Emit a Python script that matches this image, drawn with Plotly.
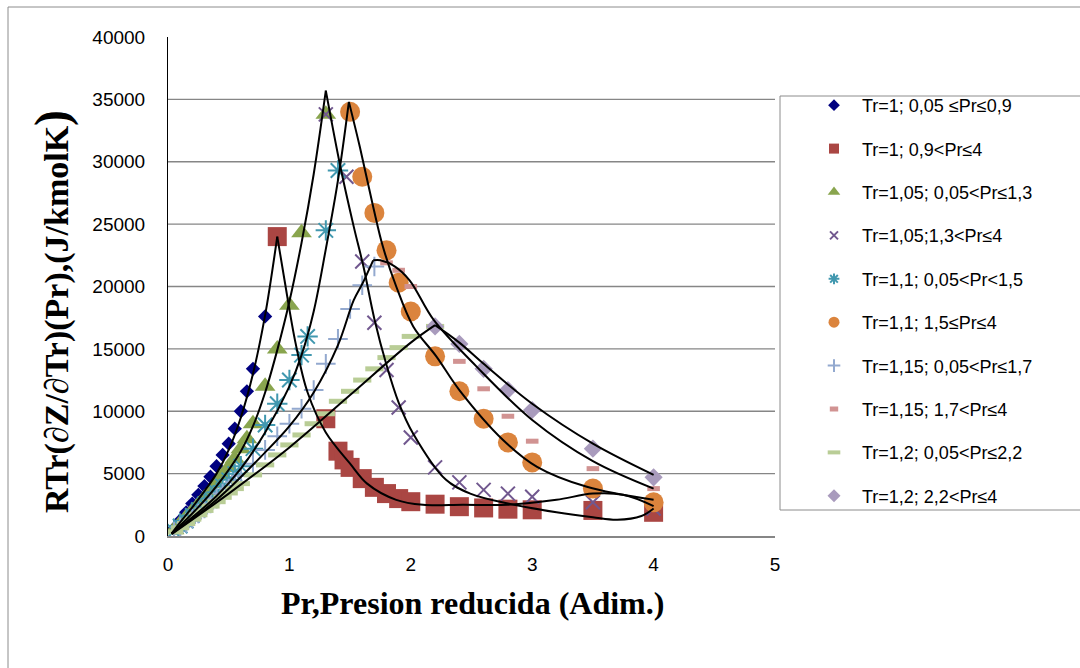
import plotly.graph_objects as go

# ---------------- data ----------------
names = ["Tr=1; 0,05 ≤Pr≤0,9", "Tr=1; 0,9<Pr≤4", "Tr=1,05; 0,05<Pr≤1,3",
         "Tr=1,05;1,3<Pr≤4", "Tr=1,1; 0,05<Pr<1,5", "Tr=1,1; 1,5≤Pr≤4",
         "Tr=1,15; 0,05<Pr≤1,7", "Tr=1,15; 1,7<Pr≤4", "Tr=1,2; 0,05<Pr≤2,2",
         "Tr=1,2; 2,2<Pr≤4"]

s1_x = [0.05, 0.1, 0.15, 0.2, 0.25, 0.3, 0.35, 0.4, 0.45, 0.5, 0.55, 0.6, 0.65, 0.7, 0.8]
s1_y = [600, 1250, 1900, 2600, 3300, 4000, 4750, 5600, 6500, 7400, 8600, 10000, 11600, 13400, 17600]

s2_x = [0.9, 1.3, 1.4, 1.45, 1.5, 1.6, 1.7, 1.8, 1.9, 2.0, 2.2, 2.4, 2.6, 2.8, 3.0, 3.5, 4.0]
s2_y = [24000, 9400, 6800, 6100, 5500, 4600, 3900, 3400, 3000, 2750, 2550, 2350, 2250, 2150, 2100, 2050, 1900]

s3_x = [0.05, 0.1, 0.15, 0.2, 0.25, 0.3, 0.35, 0.4, 0.45, 0.5, 0.55, 0.6, 0.65, 0.7, 0.8, 0.9, 1.0, 1.1, 1.3]
s3_y = [500, 1000, 1500, 2000, 2500, 3050, 3600, 4200, 4850, 5500, 6200, 7000, 7800, 9000, 12000, 15000, 18500, 24300, 33800]

s4_x = [1.3, 1.47, 1.6, 1.7, 1.8, 1.9, 2.0, 2.2, 2.4, 2.6, 2.8, 3.0, 3.5, 4.0]
s4_y = [33800, 28800, 22000, 17100, 13300, 10300, 7900, 5500, 4300, 3700, 3400, 3150, 2700, 2200]

s5_x = [0.05, 0.1, 0.15, 0.2, 0.25, 0.3, 0.35, 0.4, 0.45, 0.5, 0.55, 0.6, 0.7, 0.8, 0.9, 1.0, 1.1, 1.15, 1.3, 1.4]
s5_y = [400, 800, 1200, 1650, 2100, 2550, 3000, 3500, 4000, 4500, 5000, 5600, 7000, 8900, 10600, 12500, 14500, 16000, 24500, 29300]

s6_x = [1.5, 1.6, 1.7, 1.8, 1.9, 2.0, 2.2, 2.4, 2.6, 2.8, 3.0, 3.5, 4.0]
s6_y = [34000, 28800, 25900, 22900, 20300, 18000, 14400, 11600, 9400, 7500, 5900, 3800, 2700]

s7_x = [0.05, 0.1, 0.15, 0.2, 0.25, 0.3, 0.35, 0.4, 0.45, 0.5, 0.55, 0.6, 0.7, 0.8, 0.9, 1.0, 1.1, 1.2, 1.3, 1.4, 1.5, 1.6, 1.7]
s7_y = [350, 700, 1050, 1400, 1800, 2200, 2600, 3000, 3400, 3800, 4300, 4800, 5800, 6900, 8000, 9000, 10200, 11700, 13800, 15800, 18200, 20100, 21600]

s8_x = [1.8, 1.9, 2.0, 2.2, 2.4, 2.6, 2.8, 3.0, 3.5, 4.0]
s8_y = [21900, 21300, 20000, 16800, 14000, 11800, 9600, 7600, 5400, 3800]

s9_x = [0.05, 0.1, 0.15, 0.2, 0.25, 0.3, 0.35, 0.4, 0.45, 0.5, 0.55, 0.6, 0.7, 0.8, 0.9, 1.0, 1.1, 1.2, 1.3, 1.4, 1.5, 1.6, 1.7, 1.8, 1.9, 2.0, 2.2]
s9_y = [330, 660, 1000, 1350, 1700, 2050, 2400, 2750, 3100, 3450, 3800, 4200, 4900, 5700, 6500, 7300, 8100, 9000, 9800, 10800, 11600, 12500, 13400, 14300, 15100, 16000, 16800]

s10_x = [2.2, 2.4, 2.6, 2.8, 3.0, 3.5, 4.0]
s10_y = [16800, 15400, 13400, 11700, 10100, 7000, 4700]

# trend lines (black curves)
t1_x = [0.03, 0.1, 0.2, 0.3, 0.4, 0.5, 0.6, 0.7, 0.8, 0.9]
t1_y = [200, 1100, 2300, 3600, 5000, 6900, 9500, 13000, 17700, 24000]
t2_x = [0.9, 0.96, 1.05, 1.15, 1.3, 1.5, 1.64, 1.88, 2.1, 2.43, 2.8, 3.2, 3.5, 3.75, 4.0]
t2_y = [24000, 20500, 15500, 11500, 8300, 5800, 4200, 2900, 2500, 2500, 2500, 2900, 3400, 3300, 2400]
t3_x = [0.03, 0.2, 0.4, 0.6, 0.7, 0.8, 0.9, 1.0, 1.1, 1.2, 1.3]
t3_y = [200, 1800, 4000, 6800, 8800, 11500, 14900, 18800, 23500, 29000, 35700]
t4_x = [1.3, 1.42, 1.53, 1.61, 1.7, 1.8, 1.9, 2.02, 2.29, 2.49, 2.8, 3.2, 3.5, 3.7, 3.9, 4.0]
t4_y = [35700, 29600, 24800, 21600, 17400, 13700, 10700, 8200, 4500, 3400, 2600, 1900, 1500, 1300, 1600, 2200]
t5_x = [0.03, 0.2, 0.4, 0.6, 0.8, 1.0, 1.1, 1.2, 1.3, 1.4, 1.49]
t5_y = [200, 1500, 3200, 5400, 8300, 12000, 14500, 18000, 23000, 28500, 34800]
t6_x = [1.49, 1.58, 1.69, 1.77, 1.88, 2.02, 2.21, 2.4, 2.76, 3.04, 3.45, 4.0]
t6_y = [34800, 31200, 26400, 23200, 20000, 16800, 14400, 11700, 7700, 5550, 3950, 2900]
t7_x = [0.03, 0.4, 0.8, 1.0, 1.2, 1.4, 1.53, 1.6, 1.69]
t7_y = [200, 2900, 6700, 8800, 11500, 15300, 18900, 20200, 22100]
t8_x = [1.69, 1.75, 1.87, 1.99, 2.19, 2.54, 3.0, 3.5, 4.0]
t8_y = [22100, 22100, 21600, 20500, 17300, 13600, 9300, 6000, 3800]
t9_x = [0.03, 0.5, 1.0, 1.5, 2.0, 2.2]
t9_y = [150, 3400, 7100, 11300, 15500, 16900]
t10_x = [2.2, 2.4, 2.6, 3.0, 3.5, 4.0]
t10_y = [16900, 15500, 13800, 10600, 7400, 4900]

x_ticks = [0, 1, 2, 3, 4, 5]
x_tick_labels = ["0", "1", "2", "3", "4", "5"]
y_ticks = [0, 5000, 10000, 15000, 20000, 25000, 30000, 35000, 40000]
y_tick_labels = ["0", "5000", "10000", "15000", "20000", "25000", "30000", "35000", "40000"]

# ---------------- styles ----------------
C = ["#000080", "#AA4643", "#89A54E", "#71588F", "#4198AF", "#DB843D",
     "#93A9CF", "#D19392", "#B9CD96", "#A99BBD"]


def mk(symbol, size, color, lw=None):
    d = dict(symbol=symbol, size=size, color=color)
    if lw is not None:
        d["line"] = dict(width=lw, color=color)
    return d


plot_markers = [
    mk("diamond", 11, C[0]),
    mk("square", 19, C[1]),
    mk("triangle-up", 18, C[2]),
    mk("x-thin-open", 14, C[3], 2),
    mk("asterisk-open", 17, C[4], 2),
    mk("circle", 20, C[5]),
    mk("cross-thin-open", 14, C[6], 2),
    mk("line-ew-open", 9, C[7], 5),
    mk("line-ew-open", 13, C[8], 5),
    mk("diamond", 14, C[9]),
]
legend_markers = [
    mk("diamond", 9, C[0]),
    mk("square", 10, C[1]),
    mk("triangle-up", 11, C[2]),
    mk("x-thin-open", 8, C[3], 2),
    mk("asterisk-open", 9, C[4], 2),
    mk("circle", 11, C[5]),
    mk("cross-thin-open", 9, C[6], 2),
    mk("line-ew-open", 6, C[7], 5),
    mk("line-ew-open", 9, C[8], 4),
    mk("diamond", 10, C[9]),
]
series = [(s1_x, s1_y), (s2_x, s2_y), (s3_x, s3_y), (s4_x, s4_y), (s5_x, s5_y),
          (s6_x, s6_y), (s7_x, s7_y), (s8_x, s8_y), (s9_x, s9_y), (s10_x, s10_y)]
trends = [(t1_x, t1_y), (t2_x, t2_y), (t3_x, t3_y), (t4_x, t4_y), (t5_x, t5_y),
          (t6_x, t6_y), (t7_x, t7_y), (t8_x, t8_y), (t9_x, t9_y), (t10_x, t10_y)]

fig = go.Figure()
for i, (xs, ys) in enumerate(series):
    fig.add_trace(go.Scatter(x=xs, y=ys, mode="markers", name=names[i], marker=plot_markers[i],
                             legendgroup="g%d" % i, showlegend=False))
    # legend entry with the small marker used in the reference legend
    fig.add_trace(go.Scatter(x=[None], y=[None], mode="markers", name=names[i],
                             marker=legend_markers[i], legendgroup="g%d" % i, showlegend=True))
for xs, ys in trends:
    fig.add_trace(go.Scatter(x=xs, y=ys, mode="lines", showlegend=False, hoverinfo="skip",
                             line=dict(color="black", width=2, shape="spline", smoothing=1.0)))

W, H = 1080, 668
L, R, T, B = 168, 775, 37, 536
pw, ph = R - L, B - T


def px_x(p):
    return (p - L) / pw


def px_y(p):
    return (B - p) / ph


shapes = []
for v in y_ticks[1:-1]:
    shapes.append(dict(type="line", xref="x", yref="y", x0=0, x1=5, y0=v, y1=v,
                       line=dict(color="#868686", width=1.3), layer="below"))
# outer chart border
shapes.append(dict(type="rect", xref="paper", yref="paper", x0=px_x(8), x1=px_x(1095),
                   y0=px_y(680), y1=px_y(7), line=dict(color="#8c8c8c", width=1)))
# legend border
shapes.append(dict(type="rect", xref="paper", yref="paper", x0=px_x(780), x1=px_x(1095),
                   y0=px_y(510), y1=px_y(96), line=dict(color="#8c8c8c", width=1)))

fig.update_layout(
    width=W, height=H,
    margin=dict(l=L, r=W - R, t=T, b=H - B),
    paper_bgcolor="white", plot_bgcolor="white",
    font=dict(family="Liberation Sans, Arial", size=18, color="black"),
    showlegend=True,
    legend=dict(x=px_x(806), y=px_y(87), xanchor="left", yanchor="top",
                font=dict(size=18, family="Liberation Sans, Arial"),
                traceorder="grouped", tracegroupgap=17, itemsizing="trace", itemwidth=46,
                bgcolor="rgba(0,0,0,0)", borderwidth=0),
    xaxis=dict(range=[0, 5], tickvals=x_ticks, ticktext=x_tick_labels, showgrid=False, zeroline=False,
               showline=True, linecolor="#868686", linewidth=1.5,
               ticks="", ticklabelstandoff=10, tickfont=dict(size=19)),
    yaxis=dict(range=[0, 40000], tickvals=y_ticks, ticktext=y_tick_labels, showgrid=False, zeroline=False,
               showline=True, linecolor="black", linewidth=1,
               ticks="", ticklabelstandoff=18, tickfont=dict(size=19)),
    shapes=shapes,
    annotations=[
        dict(xref="paper", yref="paper", x=px_x(472), y=px_y(603), showarrow=False,
             xanchor="center", yanchor="middle",
             text="<b>Pr,Presion reducida (Adim.)</b>",
             font=dict(family="Liberation Serif, Times New Roman", size=32, color="black")),
        dict(xref="paper", yref="paper", x=px_x(52), y=px_y(312), showarrow=False, textangle=-90,
             xanchor="center", yanchor="middle",
             text="<b>RTr(∂Z/∂Tr)(Pr),(J/kmolK<span style='font-size:48px'>)</span></b>",
             font=dict(family="Liberation Serif, Times New Roman", size=34, color="black")),
    ],
)

fig.write_html("out.html")
